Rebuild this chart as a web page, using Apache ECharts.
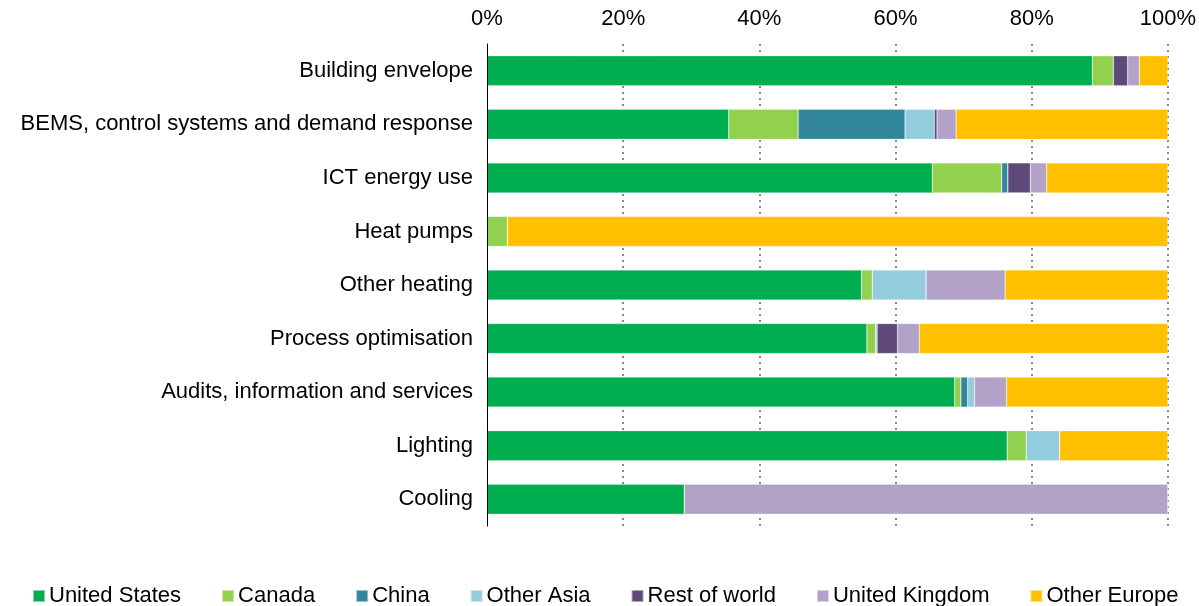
<!DOCTYPE html>
<html><head><meta charset="utf-8">
<script src="https://cdn.jsdelivr.net/npm/echarts@6/dist/echarts.min.js"></script>
<style>html,body{margin:0;padding:0;background:#fff}#c{width:1199px;height:606px}</style>
</head><body><div id="c"></div>
<script>
const categories = ["Building envelope","BEMS, control systems and demand response","ICT energy use","Heat pumps","Other heating","Process optimisation","Audits, information and services","Lighting","Cooling"];
const unitedStates = [88.9, 35.5, 65.4, 0, 55.0, 55.8, 68.7, 76.4, 29.0];
const canada       = [3.1, 10.2, 10.2, 3.0, 1.6, 1.3, 0.9, 2.8, 0];
const china        = [0, 15.7, 0.9, 0, 0, 0, 1.0, 0, 0];
const otherAsia    = [0, 4.3, 0, 0, 7.9, 0.2, 1.0, 4.9, 0];
const restOfWorld  = [2.1, 0.4, 3.3, 0, 0, 3.0, 0, 0, 0];
const unitedKingdom= [1.7, 2.8, 2.4, 0, 11.6, 3.2, 4.7, 0, 71.0];
const otherEurope  = [4.2, 31.1, 17.8, 97.0, 23.9, 36.5, 23.7, 15.9, 0];
const seriesNames = ["United States","Canada","China","Other Asia","Rest of world","United Kingdom","Other Europe"];
const seriesData = [unitedStates, canada, china, otherAsia, restOfWorld, unitedKingdom, otherEurope];
const colors = ["#00AE4F","#92D050","#31859C","#93CDDD","#5F497A","#B2A2C7","#FFC000"];
const font = "Liberation Sans, Arial, sans-serif";

const chart = echarts.init(document.getElementById('c'));
chart.setOption({
  animation: false,
  color: colors,
  textStyle: {fontFamily: font},
  grid: {left: 487, right: 31, top: 44, bottom: 80, containLabel: false},
  legend: {
    bottom: -6, left: 27, itemWidth: 12, itemHeight: 12, itemGap: 40,
    icon: 'rect',
    textStyle: {fontSize: 22, color: '#000', fontFamily: font, padding: [3,0,0,-1]},
    data: seriesNames
  },
  xAxis: {
    type: 'value', position: 'top', min: 0, max: 100, interval: 20,
    axisLine: {show: false}, axisTick: {show: false},
    axisLabel: {formatter: '{value}%', fontSize: 22, color: '#000', margin: 14, fontFamily: font},
    splitLine: {show: true, showMinLine: false, lineStyle: {type: [2, 4], color: '#888', width: 2}}
  },
  yAxis: {
    type: 'category', inverse: true, data: categories, z: 5,
    axisLine: {show: true, lineStyle: {color: '#000', width: 1}},
    axisTick: {show: false},
    axisLabel: {fontSize: 22, color: '#000', margin: 14, fontFamily: font}
  },
  series: seriesNames.map((n, i) => ({
    name: n, type: 'bar', stack: 'total', data: seriesData[i],
    barWidth: 30,
    itemStyle: {borderColor: 'rgba(255,255,255,0.5)', borderWidth: 0.5}
  }))
});
</script></body></html>
